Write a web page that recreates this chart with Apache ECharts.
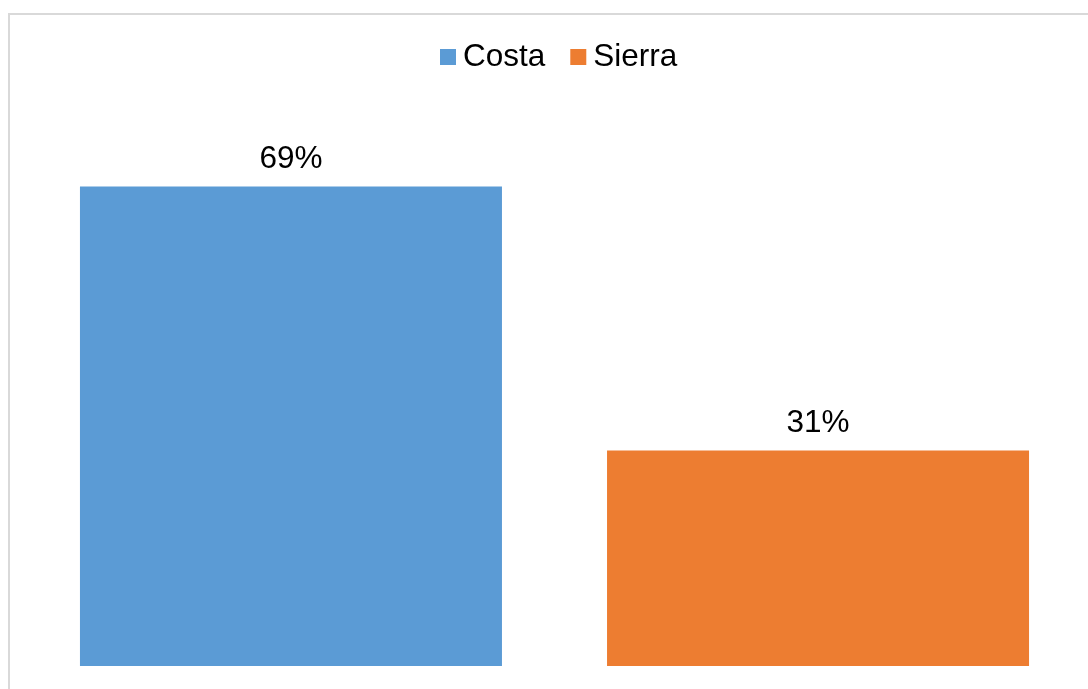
<!DOCTYPE html>
<html>
<head>
<meta charset="utf-8">
<style>
  html, body { margin: 0; padding: 0; background: #ffffff; }
  #chart { width: 1088px; height: 689px; }
</style>
<script src="https://cdn.jsdelivr.net/npm/echarts@6/dist/echarts.min.js"></script>
</head>
<body>
<div id="chart"></div>
<script>
// Share of respondents by region
const categories = [''];
const seriesNames = ['Costa', 'Sierra'];
const costaValues = [0.69];
const sierraValues = [0.31];
const seriesColors = ['#5b9bd5', '#ed7d31'];

const chart = echarts.init(document.getElementById('chart'), null, { renderer: 'canvas' });

const labelStyle = {
  show: true,
  position: 'top',
  distance: 11,
  color: '#000000',
  fontFamily: 'Liberation Sans, Arial, sans-serif',
  fontSize: 31.5,
  formatter: p => Math.round(p.value * 100) + '%'
};

chart.setOption({
  animation: false,
  backgroundColor: '#ffffff',
  graphic: [{
    type: 'rect',
    shape: { x: 9, y: 14, width: 1200, height: 800 },
    style: { fill: null, stroke: '#d9d9d9', lineWidth: 2 },
    silent: true,
    z: -1
  }],
  legend: {
    data: seriesNames,
    top: 36,
    left: 435,
    icon: 'rect',
    itemWidth: 16,
    itemHeight: 16,
    itemGap: 25,
    textStyle: {
      color: '#000000',
      fontFamily: 'Liberation Sans, Arial, sans-serif',
      fontSize: 31.5,
      padding: [0, 0, 0, 2]
    }
  },
  grid: { left: 30, right: 9, top: 110, bottom: 23, containLabel: false },
  xAxis: {
    type: 'category',
    data: categories,
    show: false
  },
  yAxis: {
    type: 'value',
    min: 0,
    max: 0.8,
    show: false,
    splitLine: { show: false }
  },
  series: [
    {
      name: seriesNames[0],
      type: 'bar',
      data: costaValues,
      barWidth: 422,
      barGap: '24.9%',
      itemStyle: { color: seriesColors[0] },
      label: labelStyle
    },
    {
      name: seriesNames[1],
      type: 'bar',
      data: sierraValues,
      barWidth: 422,
      itemStyle: { color: seriesColors[1] },
      label: labelStyle
    }
  ]
});
</script>
</body>
</html>
